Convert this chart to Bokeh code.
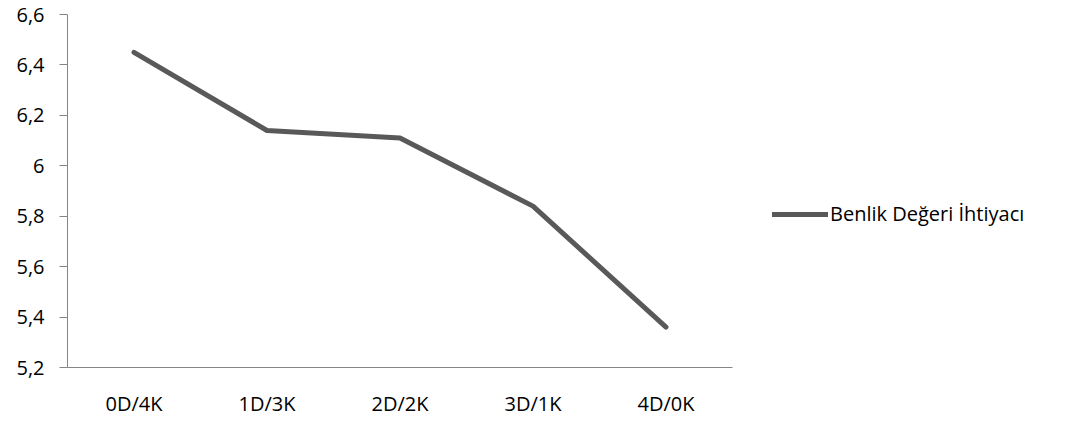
from bokeh.plotting import figure
from bokeh.models import (ColumnDataSource, FixedTicker, CustomJSTickFormatter,
                          Legend, LegendItem, Range1d)
from bokeh.embed import file_html
from bokeh.resources import INLINE

categories = ["0D/4K", "1D/3K", "2D/2K", "3D/1K", "4D/0K"]
values = [6.45, 6.14, 6.11, 5.84, 5.36]
series_name = "Benlik Değeri İhtiyacı"
y_ticks = [5.2, 5.4, 5.6, 5.8, 6.0, 6.2, 6.4, 6.6]

FONT = "Open Sans"
FS = "20px"
src = ColumnDataSource(data=dict(x=categories, y=values))

p = figure(x_range=categories, y_range=Range1d(5.2, 6.6),
           frame_width=665, frame_height=353,
           output_backend="svg", toolbar_location=None,
           min_border_left=67, min_border_top=14, min_border_bottom=43,
           min_border_right=310)
p.outline_line_color = None
p.xgrid.grid_line_color = None
p.ygrid.grid_line_color = None
p.background_fill_color = "white"
p.border_fill_color = "white"

r = p.line("x", "y", source=src, line_color="#595959", line_width=5,
           line_cap="round", line_join="round")

p.yaxis.ticker = FixedTicker(ticks=y_ticks)
p.yaxis.formatter = CustomJSTickFormatter(code="""
var s = (Math.round(tick*10)/10).toString();
return s.replace('.', ',');
""")
for ax in (p.xaxis, p.yaxis):
    ax.axis_line_color = "#868686"
    ax.axis_line_width = 1
    ax.major_label_text_font = FONT
    ax.major_label_text_font_size = FS
    ax.major_label_text_color = "#000000"
    ax.minor_tick_line_color = None
p.yaxis.major_tick_line_color = "#868686"
p.yaxis.major_tick_out = 8
p.yaxis.major_tick_in = 0
p.yaxis.major_label_standoff = 15
p.xaxis.major_tick_line_color = None
p.xaxis.major_label_standoff = 16

legend = Legend(items=[LegendItem(label=series_name, renderers=[r])],
                location=(40, 140), orientation="vertical",
                label_text_font=FONT, label_text_font_size=FS,
                label_text_color="#000000", glyph_width=56, glyph_height=20,
                label_standoff=2, border_line_color=None,
                background_fill_alpha=0, margin=0, padding=0)
p.add_layout(legend, "right")

open("out.html", "w").write(file_html(p, INLINE))
